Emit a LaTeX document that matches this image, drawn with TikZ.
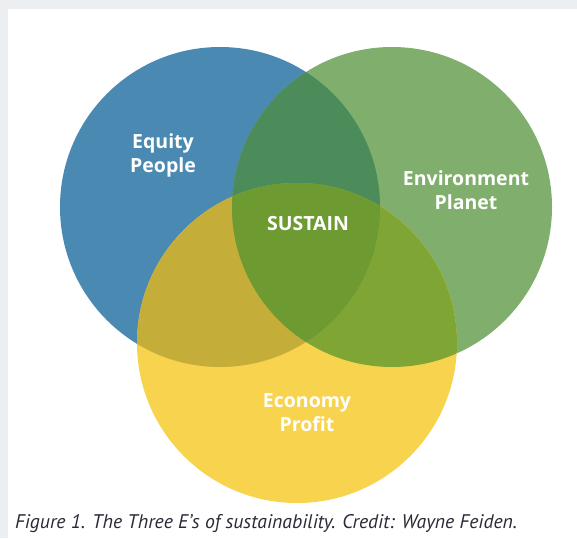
\documentclass[tikz,border=0pt]{standalone}
\usepackage{fontspec}
\setmainfont{Open Sans}
\newfontfamily\capfont{PT Sans}
\definecolor{frame}{HTML}{EBEFF2}
\definecolor{eqblue}{HTML}{4A89B2}
\definecolor{envgreen}{HTML}{80AE6D}
\definecolor{ecoyellow}{HTML}{F8D34E}
\definecolor{bluegreen}{HTML}{4B8C5A}
\definecolor{blueyellow}{HTML}{C5AD3A}
\definecolor{greenyellow}{HTML}{7FA534}
\definecolor{centre}{HTML}{6E9A32}
\definecolor{captext}{HTML}{2A2A38}
\begin{document}
\begin{tikzpicture}[x=1pt,y=-1pt,
  label/.style={text=white,font=\bfseries\fontsize{19.5}{24}\selectfont,align=center,inner sep=0pt},
  caption/.style={text=captext,font=\capfont\itshape\fontsize{19.7}{22}\selectfont,anchor=base west,inner sep=0pt}]
\useasboundingbox (0,0) rectangle (577,538);
% page background with the grey frame strip at top and left
\fill[frame] (0,0) rectangle (577,538);
\fill[white] (8,9) rectangle (577,538);
% circle centres and common radius
\def\R{160}
\coordinate (cb) at (220,207);
\coordinate (cg) at (392,207);
\coordinate (cy) at (297,343);
% single circles
\fill[eqblue] (cb) circle (\R);
\fill[envgreen] (cg) circle (\R);
\fill[ecoyellow] (cy) circle (\R);
% pairwise overlaps
\begin{scope}\clip (cb) circle (\R); \fill[bluegreen] (cg) circle (\R);\end{scope}
\begin{scope}\clip (cb) circle (\R); \fill[blueyellow] (cy) circle (\R);\end{scope}
\begin{scope}\clip (cg) circle (\R); \fill[greenyellow] (cy) circle (\R);\end{scope}
% centre region
\begin{scope}\clip (cb) circle (\R); \clip (cg) circle (\R); \fill[centre] (cy) circle (\R);\end{scope}
% labels
\node[label] (equity) at (163,155) {Equity\\People};
\node[label] (environment) at (466,190) {Environment\\Planet};
\node[label] (sustain) at (308,224) {SUSTAIN};
\node[label] (economy) at (307,413) {Economy\\Profit};
\node[caption] (cap) at (15,528) {Figure 1. The Three E’s of sustainability. Credit: Wayne Feiden.};
\end{tikzpicture}
\end{document}
